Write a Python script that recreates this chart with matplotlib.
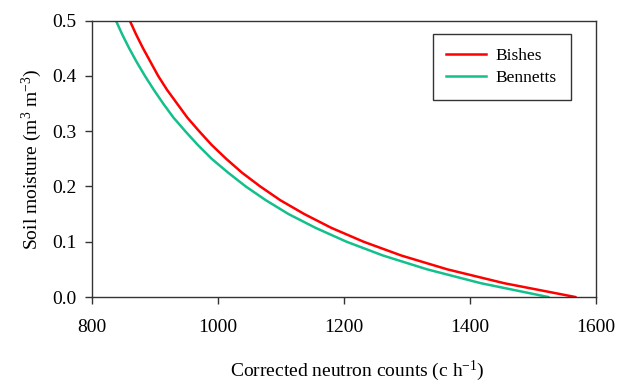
import numpy as np
import matplotlib
matplotlib.use('Agg')
import matplotlib.pyplot as plt

# soil moisture levels (m3 m-3) and counts
theta = [0.0, 0.025, 0.05, 0.075, 0.1, 0.125, 0.15, 0.175, 0.2, 0.225, 0.25,
         0.275, 0.3, 0.325, 0.35, 0.375, 0.4, 0.425, 0.45, 0.475, 0.5]
bishes = [1567, 1454, 1364, 1291, 1231, 1180, 1137, 1099, 1067, 1038, 1013,
          990, 970, 951, 935, 919, 905, 893, 881, 870, 860]
bennetts = [1524, 1417, 1332, 1262, 1204, 1155, 1112, 1076, 1044, 1016, 990,
            968, 948, 929, 913, 898, 884, 871, 859, 848, 838]

x_ticks = [800, 1000, 1200, 1400, 1600]
y_ticks = [0.0, 0.1, 0.2, 0.3, 0.4, 0.5]

plt.rcParams['font.family'] = ['Liberation Serif', 'DejaVu Serif']
plt.rcParams['mathtext.fontset'] = 'custom'
plt.rcParams['mathtext.rm'] = 'Liberation Serif'
plt.rcParams['mathtext.default'] = 'regular'

fig = plt.figure(figsize=(6.19, 3.82), dpi=100)
ax = fig.add_axes([0.1486, 0.2225, 0.8144, 0.7235])

ax.plot(bishes, theta, color='#ff0000', lw=1.8, label='Bishes')
ax.plot(bennetts, theta, color='#13c08c', lw=1.8, label='Bennetts')

ax.set_xlim(800, 1600)
ax.set_ylim(0, 0.5)
ax.set_xticks(x_ticks)
ax.set_xticklabels([str(v) for v in x_ticks])
ax.set_yticks(y_ticks)
ax.set_yticklabels([f'{v:.1f}' for v in y_ticks])

for s in ax.spines.values():
    s.set_color('#333333')
    s.set_linewidth(1.0)
ax.tick_params(direction='out', length=5, width=1, color='#333333',
               labelsize=14, labelcolor='black')
ax.tick_params(axis='x', pad=11)
ax.tick_params(axis='y', pad=6)

ax.set_xlabel('Corrected neutron counts (c h$^{-1}$)', fontsize=14)
ax.xaxis.set_label_coords(0.526, -0.222)
ax.set_ylabel('Soil moisture (m$^{3}$ m$^{-3}$)', fontsize=14, labelpad=6)

leg = ax.legend(loc='upper right', bbox_to_anchor=(0.95, 0.95), fontsize=12.5,
                frameon=True, fancybox=False, edgecolor='black',
                handlelength=2.3, handletextpad=0.55, borderpad=0.8,
                labelspacing=0.32, borderaxespad=0)
leg.get_frame().set_linewidth(1.0)

fig.savefig('out.png', dpi=100)
